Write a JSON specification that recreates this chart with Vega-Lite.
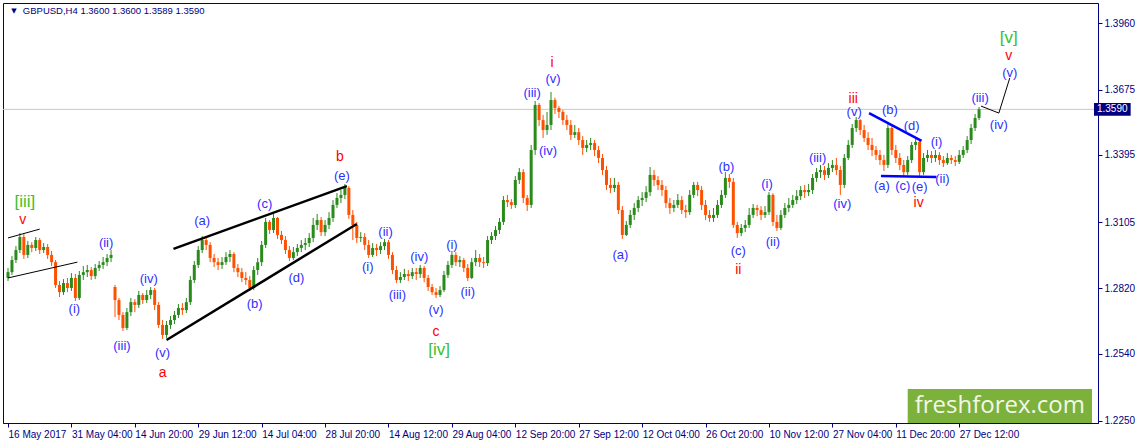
{
  "$schema": "https://vega.github.io/schema/vega-lite/v6.json",
  "width": 1095,
  "height": 420,
  "autosize": {"type": "none"},
  "padding": {"left": 3, "top": 3, "right": 39, "bottom": 21},
  "background": "white",
  "config": {"view": {"stroke": "#000080", "strokeWidth": 1}, "font": "Liberation Sans"},
  "datasets": {
    "candles": [
      {"t":0,"o":1.2865,"h":1.2908,"l":1.2852,"c":1.2890},
      {"t":4,"o":1.2890,"h":1.2959,"l":1.2878,"c":1.2942},
      {"t":8,"o":1.2942,"h":1.3002,"l":1.2929,"c":1.2985},
      {"t":12,"o":1.2985,"h":1.3058,"l":1.2972,"c":1.3041},
      {"t":16,"o":1.3041,"h":1.3054,"l":1.2947,"c":1.2964},
      {"t":20,"o":1.2964,"h":1.3024,"l":1.2951,"c":1.3007},
      {"t":24,"o":1.3007,"h":1.3019,"l":1.2976,"c":1.2994},
      {"t":28,"o":1.2994,"h":1.3041,"l":1.2981,"c":1.3028},
      {"t":32,"o":1.3028,"h":1.3037,"l":1.2968,"c":1.2985},
      {"t":36,"o":1.2985,"h":1.3015,"l":1.2972,"c":1.2998},
      {"t":40,"o":1.2998,"h":1.3011,"l":1.2947,"c":1.2964},
      {"t":44,"o":1.2964,"h":1.2981,"l":1.2916,"c":1.2933},
      {"t":48,"o":1.2933,"h":1.2942,"l":1.2822,"c":1.2835},
      {"t":52,"o":1.2835,"h":1.2852,"l":1.2783,"c":1.2804},
      {"t":56,"o":1.2804,"h":1.2860,"l":1.2792,"c":1.2843},
      {"t":60,"o":1.2843,"h":1.2865,"l":1.2804,"c":1.2822},
      {"t":64,"o":1.2822,"h":1.2886,"l":1.2809,"c":1.2865},
      {"t":68,"o":1.2865,"h":1.2882,"l":1.2766,"c":1.2779},
      {"t":72,"o":1.2779,"h":1.2895,"l":1.2770,"c":1.2878},
      {"t":76,"o":1.2878,"h":1.2916,"l":1.2856,"c":1.2890},
      {"t":80,"o":1.2890,"h":1.2921,"l":1.2869,"c":1.2899},
      {"t":84,"o":1.2899,"h":1.2912,"l":1.2856,"c":1.2873},
      {"t":88,"o":1.2873,"h":1.2925,"l":1.2860,"c":1.2908},
      {"t":92,"o":1.2908,"h":1.2938,"l":1.2895,"c":1.2921},
      {"t":96,"o":1.2921,"h":1.2955,"l":1.2904,"c":1.2933},
      {"t":100,"o":1.2933,"h":1.2968,"l":1.2916,"c":1.2951},
      {"t":104,"o":1.2951,"h":1.2985,"l":1.2933,"c":1.2964},
      {"t":108,"o":1.2826,"h":1.2835,"l":1.2697,"c":1.2770},
      {"t":112,"o":1.2770,"h":1.2779,"l":1.2684,"c":1.2706},
      {"t":116,"o":1.2706,"h":1.2718,"l":1.2637,"c":1.2650},
      {"t":120,"o":1.2650,"h":1.2736,"l":1.2641,"c":1.2718},
      {"t":124,"o":1.2718,"h":1.2779,"l":1.2701,"c":1.2761},
      {"t":128,"o":1.2761,"h":1.2774,"l":1.2718,"c":1.2749},
      {"t":132,"o":1.2749,"h":1.2809,"l":1.2736,"c":1.2792},
      {"t":136,"o":1.2792,"h":1.2800,"l":1.2753,"c":1.2770},
      {"t":140,"o":1.2770,"h":1.2813,"l":1.2757,"c":1.2792},
      {"t":144,"o":1.2792,"h":1.2826,"l":1.2774,"c":1.2813},
      {"t":148,"o":1.2813,"h":1.2822,"l":1.2727,"c":1.2749},
      {"t":152,"o":1.2749,"h":1.2761,"l":1.2650,"c":1.2663},
      {"t":156,"o":1.2663,"h":1.2684,"l":1.2603,"c":1.2620},
      {"t":160,"o":1.2620,"h":1.2680,"l":1.2607,"c":1.2663},
      {"t":164,"o":1.2663,"h":1.2701,"l":1.2646,"c":1.2684},
      {"t":168,"o":1.2684,"h":1.2723,"l":1.2667,"c":1.2706},
      {"t":172,"o":1.2706,"h":1.2753,"l":1.2693,"c":1.2736},
      {"t":176,"o":1.2736,"h":1.2757,"l":1.2706,"c":1.2727},
      {"t":180,"o":1.2727,"h":1.2779,"l":1.2714,"c":1.2761},
      {"t":184,"o":1.2761,"h":1.2873,"l":1.2749,"c":1.2856},
      {"t":188,"o":1.2856,"h":1.2938,"l":1.2843,"c":1.2921},
      {"t":192,"o":1.2921,"h":1.3002,"l":1.2908,"c":1.2985},
      {"t":196,"o":1.2985,"h":1.3045,"l":1.2972,"c":1.3028},
      {"t":200,"o":1.3028,"h":1.3041,"l":1.2985,"c":1.3007},
      {"t":204,"o":1.3007,"h":1.3019,"l":1.2933,"c":1.2951},
      {"t":208,"o":1.2951,"h":1.2968,"l":1.2912,"c":1.2933},
      {"t":212,"o":1.2933,"h":1.2951,"l":1.2899,"c":1.2921},
      {"t":216,"o":1.2921,"h":1.2955,"l":1.2904,"c":1.2933},
      {"t":220,"o":1.2933,"h":1.2976,"l":1.2921,"c":1.2955},
      {"t":224,"o":1.2955,"h":1.2985,"l":1.2933,"c":1.2968},
      {"t":228,"o":1.2968,"h":1.2976,"l":1.2890,"c":1.2908},
      {"t":232,"o":1.2908,"h":1.2925,"l":1.2869,"c":1.2890},
      {"t":236,"o":1.2890,"h":1.2908,"l":1.2847,"c":1.2865},
      {"t":240,"o":1.2865,"h":1.2890,"l":1.2835,"c":1.2856},
      {"t":244,"o":1.2856,"h":1.2873,"l":1.2809,"c":1.2822},
      {"t":248,"o":1.2822,"h":1.2916,"l":1.2813,"c":1.2899},
      {"t":252,"o":1.2899,"h":1.2951,"l":1.2878,"c":1.2933},
      {"t":256,"o":1.2933,"h":1.3024,"l":1.2916,"c":1.3007},
      {"t":260,"o":1.3007,"h":1.3123,"l":1.2994,"c":1.3106},
      {"t":264,"o":1.3106,"h":1.3114,"l":1.3054,"c":1.3071},
      {"t":268,"o":1.3071,"h":1.3140,"l":1.3058,"c":1.3123},
      {"t":272,"o":1.3123,"h":1.3127,"l":1.3033,"c":1.3050},
      {"t":276,"o":1.3050,"h":1.3067,"l":1.3011,"c":1.3028},
      {"t":280,"o":1.3028,"h":1.3045,"l":1.2968,"c":1.2985},
      {"t":284,"o":1.2985,"h":1.3002,"l":1.2938,"c":1.2951},
      {"t":288,"o":1.2951,"h":1.2998,"l":1.2942,"c":1.2976},
      {"t":292,"o":1.2976,"h":1.3011,"l":1.2959,"c":1.2994},
      {"t":296,"o":1.2994,"h":1.3028,"l":1.2976,"c":1.3007},
      {"t":300,"o":1.3007,"h":1.3037,"l":1.2985,"c":1.3015},
      {"t":304,"o":1.3015,"h":1.3058,"l":1.2998,"c":1.3037},
      {"t":308,"o":1.3037,"h":1.3123,"l":1.3019,"c":1.3093},
      {"t":312,"o":1.3093,"h":1.3140,"l":1.3071,"c":1.3114},
      {"t":316,"o":1.3114,"h":1.3127,"l":1.3045,"c":1.3062},
      {"t":320,"o":1.3062,"h":1.3114,"l":1.3045,"c":1.3093},
      {"t":324,"o":1.3093,"h":1.3148,"l":1.3075,"c":1.3123},
      {"t":328,"o":1.3123,"h":1.3200,"l":1.3106,"c":1.3179},
      {"t":332,"o":1.3179,"h":1.3230,"l":1.3166,"c":1.3209},
      {"t":336,"o":1.3209,"h":1.3243,"l":1.3187,"c":1.3222},
      {"t":340,"o":1.3222,"h":1.3269,"l":1.3204,"c":1.3252},
      {"t":344,"o":1.3252,"h":1.3260,"l":1.3119,"c":1.3136},
      {"t":348,"o":1.3136,"h":1.3157,"l":1.3028,"c":1.3093},
      {"t":352,"o":1.3093,"h":1.3106,"l":1.3015,"c":1.3037},
      {"t":356,"o":1.3037,"h":1.3062,"l":1.3019,"c":1.3041},
      {"t":360,"o":1.3041,"h":1.3058,"l":1.2985,"c":1.3007},
      {"t":364,"o":1.3007,"h":1.3028,"l":1.2951,"c":1.2964},
      {"t":368,"o":1.2964,"h":1.3015,"l":1.2955,"c":1.2994},
      {"t":372,"o":1.2994,"h":1.3011,"l":1.2959,"c":1.2985},
      {"t":376,"o":1.2985,"h":1.3019,"l":1.2968,"c":1.3002},
      {"t":380,"o":1.3002,"h":1.3033,"l":1.2985,"c":1.3019},
      {"t":384,"o":1.3019,"h":1.3028,"l":1.2947,"c":1.2964},
      {"t":388,"o":1.2964,"h":1.2976,"l":1.2882,"c":1.2899},
      {"t":392,"o":1.2899,"h":1.2916,"l":1.2843,"c":1.2856},
      {"t":396,"o":1.2856,"h":1.2890,"l":1.2843,"c":1.2869},
      {"t":400,"o":1.2869,"h":1.2904,"l":1.2856,"c":1.2882},
      {"t":404,"o":1.2882,"h":1.2899,"l":1.2852,"c":1.2873},
      {"t":408,"o":1.2873,"h":1.2908,"l":1.2860,"c":1.2890},
      {"t":412,"o":1.2890,"h":1.2908,"l":1.2856,"c":1.2882},
      {"t":416,"o":1.2882,"h":1.2921,"l":1.2865,"c":1.2908},
      {"t":420,"o":1.2908,"h":1.2916,"l":1.2847,"c":1.2865},
      {"t":424,"o":1.2865,"h":1.2878,"l":1.2809,"c":1.2826},
      {"t":428,"o":1.2826,"h":1.2839,"l":1.2792,"c":1.2804},
      {"t":432,"o":1.2804,"h":1.2822,"l":1.2779,"c":1.2792},
      {"t":436,"o":1.2792,"h":1.2830,"l":1.2783,"c":1.2813},
      {"t":440,"o":1.2813,"h":1.2895,"l":1.2804,"c":1.2878},
      {"t":444,"o":1.2878,"h":1.2938,"l":1.2865,"c":1.2921},
      {"t":448,"o":1.2921,"h":1.2981,"l":1.2908,"c":1.2964},
      {"t":452,"o":1.2964,"h":1.2976,"l":1.2916,"c":1.2933},
      {"t":456,"o":1.2933,"h":1.2959,"l":1.2912,"c":1.2942},
      {"t":460,"o":1.2942,"h":1.2951,"l":1.2890,"c":1.2908},
      {"t":464,"o":1.2908,"h":1.2925,"l":1.2852,"c":1.2865},
      {"t":468,"o":1.2865,"h":1.2951,"l":1.2860,"c":1.2933},
      {"t":472,"o":1.2933,"h":1.2985,"l":1.2916,"c":1.2951},
      {"t":476,"o":1.2951,"h":1.2968,"l":1.2912,"c":1.2933},
      {"t":480,"o":1.2933,"h":1.2955,"l":1.2908,"c":1.2929},
      {"t":484,"o":1.2929,"h":1.3045,"l":1.2916,"c":1.3028},
      {"t":488,"o":1.3028,"h":1.3062,"l":1.3011,"c":1.3045},
      {"t":492,"o":1.3045,"h":1.3088,"l":1.3028,"c":1.3071},
      {"t":496,"o":1.3071,"h":1.3123,"l":1.3054,"c":1.3106},
      {"t":500,"o":1.3106,"h":1.3217,"l":1.3093,"c":1.3200},
      {"t":504,"o":1.3200,"h":1.3222,"l":1.3170,"c":1.3191},
      {"t":508,"o":1.3191,"h":1.3204,"l":1.3162,"c":1.3179},
      {"t":512,"o":1.3179,"h":1.3303,"l":1.3166,"c":1.3286},
      {"t":516,"o":1.3286,"h":1.3338,"l":1.3269,"c":1.3320},
      {"t":520,"o":1.3320,"h":1.3333,"l":1.3187,"c":1.3209},
      {"t":524,"o":1.3209,"h":1.3222,"l":1.3153,"c":1.3179},
      {"t":528,"o":1.3179,"h":1.3437,"l":1.3166,"c":1.3415},
      {"t":532,"o":1.3415,"h":1.3626,"l":1.3394,"c":1.3609},
      {"t":536,"o":1.3609,"h":1.3617,"l":1.3518,"c":1.3544},
      {"t":540,"o":1.3544,"h":1.3566,"l":1.3467,"c":1.3501},
      {"t":544,"o":1.3501,"h":1.3579,"l":1.3480,"c":1.3523},
      {"t":548,"o":1.3523,"h":1.3665,"l":1.3501,"c":1.3630},
      {"t":552,"o":1.3630,"h":1.3640,"l":1.3570,"c":1.3596},
      {"t":556,"o":1.3596,"h":1.3604,"l":1.3553,"c":1.3579},
      {"t":560,"o":1.3579,"h":1.3587,"l":1.3523,"c":1.3544},
      {"t":564,"o":1.3544,"h":1.3566,"l":1.3501,"c":1.3523},
      {"t":568,"o":1.3523,"h":1.3544,"l":1.3458,"c":1.3480},
      {"t":572,"o":1.3480,"h":1.3523,"l":1.3467,"c":1.3492},
      {"t":576,"o":1.3492,"h":1.3510,"l":1.3437,"c":1.3458},
      {"t":580,"o":1.3458,"h":1.3475,"l":1.3394,"c":1.3424},
      {"t":584,"o":1.3424,"h":1.3458,"l":1.3406,"c":1.3437},
      {"t":588,"o":1.3437,"h":1.3467,"l":1.3415,"c":1.3445},
      {"t":592,"o":1.3445,"h":1.3458,"l":1.3389,"c":1.3415},
      {"t":596,"o":1.3415,"h":1.3432,"l":1.3359,"c":1.3381},
      {"t":600,"o":1.3381,"h":1.3398,"l":1.3308,"c":1.3329},
      {"t":604,"o":1.3329,"h":1.3346,"l":1.3243,"c":1.3265},
      {"t":608,"o":1.3265,"h":1.3295,"l":1.3230,"c":1.3252},
      {"t":612,"o":1.3252,"h":1.3295,"l":1.3234,"c":1.3265},
      {"t":616,"o":1.3265,"h":1.3278,"l":1.3140,"c":1.3157},
      {"t":620,"o":1.3157,"h":1.3174,"l":1.3033,"c":1.3050},
      {"t":624,"o":1.3050,"h":1.3110,"l":1.3045,"c":1.3093},
      {"t":628,"o":1.3093,"h":1.3157,"l":1.3080,"c":1.3136},
      {"t":632,"o":1.3136,"h":1.3187,"l":1.3114,"c":1.3166},
      {"t":636,"o":1.3166,"h":1.3217,"l":1.3148,"c":1.3200},
      {"t":640,"o":1.3200,"h":1.3234,"l":1.3174,"c":1.3209},
      {"t":644,"o":1.3209,"h":1.3260,"l":1.3191,"c":1.3234},
      {"t":648,"o":1.3234,"h":1.3342,"l":1.3217,"c":1.3308},
      {"t":652,"o":1.3308,"h":1.3329,"l":1.3260,"c":1.3286},
      {"t":656,"o":1.3286,"h":1.3303,"l":1.3243,"c":1.3265},
      {"t":660,"o":1.3265,"h":1.3286,"l":1.3217,"c":1.3243},
      {"t":664,"o":1.3243,"h":1.3260,"l":1.3166,"c":1.3187},
      {"t":668,"o":1.3187,"h":1.3209,"l":1.3140,"c":1.3166},
      {"t":672,"o":1.3166,"h":1.3200,"l":1.3148,"c":1.3179},
      {"t":676,"o":1.3179,"h":1.3226,"l":1.3166,"c":1.3200},
      {"t":680,"o":1.3200,"h":1.3217,"l":1.3140,"c":1.3157},
      {"t":684,"o":1.3157,"h":1.3179,"l":1.3123,"c":1.3148},
      {"t":688,"o":1.3148,"h":1.3243,"l":1.3136,"c":1.3222},
      {"t":692,"o":1.3222,"h":1.3278,"l":1.3209,"c":1.3265},
      {"t":696,"o":1.3265,"h":1.3278,"l":1.3217,"c":1.3243},
      {"t":700,"o":1.3243,"h":1.3260,"l":1.3157,"c":1.3179},
      {"t":704,"o":1.3179,"h":1.3200,"l":1.3114,"c":1.3136},
      {"t":708,"o":1.3136,"h":1.3157,"l":1.3106,"c":1.3123},
      {"t":712,"o":1.3123,"h":1.3166,"l":1.3106,"c":1.3136},
      {"t":716,"o":1.3136,"h":1.3200,"l":1.3123,"c":1.3179},
      {"t":720,"o":1.3179,"h":1.3243,"l":1.3166,"c":1.3222},
      {"t":724,"o":1.3222,"h":1.3320,"l":1.3209,"c":1.3295},
      {"t":728,"o":1.3295,"h":1.3312,"l":1.3252,"c":1.3278},
      {"t":732,"o":1.3278,"h":1.3295,"l":1.3080,"c":1.3093},
      {"t":736,"o":1.3093,"h":1.3106,"l":1.3037,"c":1.3058},
      {"t":740,"o":1.3058,"h":1.3097,"l":1.3045,"c":1.3080},
      {"t":744,"o":1.3080,"h":1.3114,"l":1.3062,"c":1.3093},
      {"t":748,"o":1.3093,"h":1.3166,"l":1.3080,"c":1.3136},
      {"t":752,"o":1.3136,"h":1.3183,"l":1.3123,"c":1.3166},
      {"t":756,"o":1.3166,"h":1.3179,"l":1.3131,"c":1.3157},
      {"t":760,"o":1.3157,"h":1.3174,"l":1.3114,"c":1.3136},
      {"t":764,"o":1.3136,"h":1.3174,"l":1.3123,"c":1.3148},
      {"t":768,"o":1.3148,"h":1.3234,"l":1.3136,"c":1.3222},
      {"t":772,"o":1.3222,"h":1.3230,"l":1.3088,"c":1.3106},
      {"t":776,"o":1.3106,"h":1.3136,"l":1.3067,"c":1.3080},
      {"t":780,"o":1.3080,"h":1.3157,"l":1.3071,"c":1.3136},
      {"t":784,"o":1.3136,"h":1.3187,"l":1.3123,"c":1.3166},
      {"t":788,"o":1.3166,"h":1.3209,"l":1.3148,"c":1.3179},
      {"t":792,"o":1.3179,"h":1.3222,"l":1.3166,"c":1.3200},
      {"t":796,"o":1.3200,"h":1.3243,"l":1.3183,"c":1.3217},
      {"t":800,"o":1.3217,"h":1.3260,"l":1.3200,"c":1.3243},
      {"t":804,"o":1.3243,"h":1.3265,"l":1.3209,"c":1.3234},
      {"t":808,"o":1.3234,"h":1.3269,"l":1.3217,"c":1.3243},
      {"t":812,"o":1.3243,"h":1.3312,"l":1.3226,"c":1.3295},
      {"t":816,"o":1.3295,"h":1.3338,"l":1.3278,"c":1.3320},
      {"t":820,"o":1.3320,"h":1.3351,"l":1.3295,"c":1.3329},
      {"t":824,"o":1.3329,"h":1.3346,"l":1.3286,"c":1.3308},
      {"t":828,"o":1.3308,"h":1.3359,"l":1.3295,"c":1.3338},
      {"t":832,"o":1.3338,"h":1.3372,"l":1.3320,"c":1.3351},
      {"t":836,"o":1.3351,"h":1.3381,"l":1.3308,"c":1.3329},
      {"t":840,"o":1.3329,"h":1.3346,"l":1.3222,"c":1.3265},
      {"t":844,"o":1.3265,"h":1.3398,"l":1.3252,"c":1.3381},
      {"t":848,"o":1.3381,"h":1.3458,"l":1.3372,"c":1.3437},
      {"t":852,"o":1.3437,"h":1.3527,"l":1.3424,"c":1.3510},
      {"t":856,"o":1.3510,"h":1.3557,"l":1.3492,"c":1.3544},
      {"t":860,"o":1.3544,"h":1.3548,"l":1.3480,"c":1.3501},
      {"t":864,"o":1.3501,"h":1.3523,"l":1.3450,"c":1.3467},
      {"t":868,"o":1.3467,"h":1.3492,"l":1.3415,"c":1.3437},
      {"t":872,"o":1.3437,"h":1.3467,"l":1.3389,"c":1.3415},
      {"t":876,"o":1.3415,"h":1.3432,"l":1.3372,"c":1.3394},
      {"t":880,"o":1.3394,"h":1.3415,"l":1.3351,"c":1.3372},
      {"t":884,"o":1.3372,"h":1.3394,"l":1.3325,"c":1.3351},
      {"t":888,"o":1.3351,"h":1.3527,"l":1.3338,"c":1.3510},
      {"t":892,"o":1.3510,"h":1.3518,"l":1.3394,"c":1.3415},
      {"t":896,"o":1.3415,"h":1.3437,"l":1.3359,"c":1.3381},
      {"t":900,"o":1.3381,"h":1.3402,"l":1.3329,"c":1.3351},
      {"t":904,"o":1.3351,"h":1.3372,"l":1.3303,"c":1.3320},
      {"t":908,"o":1.3320,"h":1.3389,"l":1.3308,"c":1.3372},
      {"t":912,"o":1.3372,"h":1.3450,"l":1.3359,"c":1.3437},
      {"t":916,"o":1.3437,"h":1.3463,"l":1.3415,"c":1.3450},
      {"t":920,"o":1.3450,"h":1.3458,"l":1.3299,"c":1.3320},
      {"t":924,"o":1.3320,"h":1.3402,"l":1.3308,"c":1.3381},
      {"t":928,"o":1.3381,"h":1.3415,"l":1.3364,"c":1.3394},
      {"t":932,"o":1.3394,"h":1.3411,"l":1.3359,"c":1.3381},
      {"t":936,"o":1.3381,"h":1.3415,"l":1.3364,"c":1.3394},
      {"t":940,"o":1.3394,"h":1.3406,"l":1.3351,"c":1.3372},
      {"t":944,"o":1.3372,"h":1.3389,"l":1.3342,"c":1.3359},
      {"t":948,"o":1.3359,"h":1.3402,"l":1.3351,"c":1.3381},
      {"t":952,"o":1.3381,"h":1.3394,"l":1.3355,"c":1.3372},
      {"t":956,"o":1.3372,"h":1.3389,"l":1.3346,"c":1.3364},
      {"t":960,"o":1.3364,"h":1.3415,"l":1.3355,"c":1.3394},
      {"t":964,"o":1.3394,"h":1.3432,"l":1.3381,"c":1.3415},
      {"t":968,"o":1.3415,"h":1.3475,"l":1.3402,"c":1.3458},
      {"t":972,"o":1.3458,"h":1.3527,"l":1.3441,"c":1.3510},
      {"t":976,"o":1.3510,"h":1.3570,"l":1.3497,"c":1.3553},
      {"t":980,"o":1.3553,"h":1.3600,"l":1.3544,"c":1.3590}
    ],
    "waves": [
      {"t":67,"p":1.2731,"s":"(i)","k":"minor"},
      {"t":99,"p":1.3015,"s":"(ii)","k":"minor"},
      {"t":115,"p":1.2572,"s":"(iii)","k":"minor"},
      {"t":142,"p":1.2860,"s":"(iv)","k":"minor"},
      {"t":156,"p":1.2542,"s":"(v)","k":"minor"},
      {"t":196,"p":1.3110,"s":"(a)","k":"minor"},
      {"t":249,"p":1.2753,"s":"(b)","k":"minor"},
      {"t":259,"p":1.3183,"s":"(c)","k":"minor"},
      {"t":291,"p":1.2865,"s":"(d)","k":"minor"},
      {"t":337,"p":1.3303,"s":"(e)","k":"minor"},
      {"t":363,"p":1.2912,"s":"(i)","k":"minor"},
      {"t":381,"p":1.3062,"s":"(ii)","k":"minor"},
      {"t":393,"p":1.2792,"s":"(iii)","k":"minor"},
      {"t":415,"p":1.2955,"s":"(iv)","k":"minor"},
      {"t":432,"p":1.2727,"s":"(v)","k":"minor"},
      {"t":448,"p":1.3007,"s":"(i)","k":"minor"},
      {"t":464,"p":1.2804,"s":"(ii)","k":"minor"},
      {"t":529,"p":1.3660,"s":"(iii)","k":"minor"},
      {"t":545,"p":1.3411,"s":"(iv)","k":"minor"},
      {"t":550,"p":1.3721,"s":"(v)","k":"minor"},
      {"t":618,"p":1.2964,"s":"(a)","k":"minor"},
      {"t":725,"p":1.3342,"s":"(b)","k":"minor"},
      {"t":737,"p":1.2981,"s":"(c)","k":"minor"},
      {"t":766,"p":1.3269,"s":"(i)","k":"minor"},
      {"t":772,"p":1.3019,"s":"(ii)","k":"minor"},
      {"t":817,"p":1.3381,"s":"(iii)","k":"minor"},
      {"t":842,"p":1.3183,"s":"(iv)","k":"minor"},
      {"t":854,"p":1.3578,"s":"(v)","k":"minor"},
      {"t":890,"p":1.3587,"s":"(b)","k":"minor"},
      {"t":912,"p":1.3518,"s":"(d)","k":"minor"},
      {"t":882,"p":1.3260,"s":"(a)","k":"minor"},
      {"t":903,"p":1.3260,"s":"(c)","k":"minor"},
      {"t":920,"p":1.3256,"s":"(e)","k":"minor"},
      {"t":937,"p":1.3450,"s":"(i)","k":"minor"},
      {"t":943,"p":1.3290,"s":"(ii)","k":"minor"},
      {"t":981,"p":1.3639,"s":"(iii)","k":"minor"},
      {"t":1000,"p":1.3523,"s":"(iv)","k":"minor"},
      {"t":1011,"p":1.3748,"s":"(v)","k":"minor"},
      {"t":15,"p":1.3114,"s":"v","k":"inter"},
      {"t":156,"p":1.2456,"s":"a","k":"inter"},
      {"t":335,"p":1.3385,"s":"b","k":"inter"},
      {"t":432,"p":1.2632,"s":"c","k":"inter"},
      {"t":549,"p":1.3789,"s":"i","k":"inter"},
      {"t":737,"p":1.2899,"s":"ii","k":"inter"},
      {"t":853,"p":1.3635,"s":"iii","k":"inter"},
      {"t":919,"p":1.3187,"s":"iv","k":"inter"},
      {"t":1010,"p":1.3820,"s":"v","k":"inter"},
      {"t":17,"p":1.3191,"s":"[iii]","k":"primary"},
      {"t":435,"p":1.2555,"s":"[iv]","k":"primary"},
      {"t":1010,"p":1.3895,"s":"[v]","k":"primary"}
    ],
    "lines": [
      {"g":"l1","k":"thin","t":0,"p":1.3037},
      {"g":"l1","k":"thin","t":32,"p":1.3075},
      {"g":"l2","k":"thin","t":0,"p":1.2865},
      {"g":"l2","k":"thin","t":70,"p":1.2933},
      {"g":"proj","k":"thin","t":982,"p":1.3604},
      {"g":"proj","k":"thin","t":1000,"p":1.3574},
      {"g":"proj","k":"thin","t":1011,"p":1.3725},
      {"g":"w1","k":"thick","t":167,"p":1.2990},
      {"g":"w1","k":"thick","t":342,"p":1.3260},
      {"g":"w2","k":"thick","t":160,"p":1.2598},
      {"g":"w2","k":"thick","t":352,"p":1.3097},
      {"g":"t1","k":"blue","t":869,"p":1.3574},
      {"g":"t1","k":"blue","t":922,"p":1.3454},
      {"g":"t2","k":"blue","t":881,"p":1.3303},
      {"g":"t2","k":"blue","t":937,"p":1.3299}
    ]
  },
  "layer": [
    {
      "data": {"values": [{}]},
      "mark": {"type": "rule", "color": "#c8c8c8", "strokeWidth": 1},
      "encoding": {"y": {"datum": 1.359, "type": "quantitative"}}
    },
    {
      "data": {"values": [{}]},
      "mark": {"type": "rect", "color": "#7cb13b"},
      "encoding": {
        "x": {"datum": 908, "type": "quantitative"},
        "x2": {"datum": 1094},
        "y": {"datum": 1.2388, "type": "quantitative"},
        "y2": {"datum": 1.2241}
      }
    },
    {
      "data": {"values": [{}]},
      "mark": {"type": "text", "font": "Open Sans", "fontSize": 24, "color": "#f2f7ea", "align": "center", "baseline": "middle"},
      "encoding": {
        "x": {"datum": 1001, "type": "quantitative"},
        "y": {"datum": 1.2316, "type": "quantitative"},
        "text": {"value": "freshforex.com"}
      }
    },
    {
      "data": {"values": [{}]},
      "mark": {"type": "text", "font": "DejaVu Sans", "fontSize": 7, "color": "#000080", "align": "center", "baseline": "middle"},
      "encoding": {
        "x": {"datum": 6, "type": "quantitative"},
        "y": {"datum": 1.4013, "type": "quantitative"},
        "text": {"value": "▼"}
      }
    },
    {
      "data": {"values": [{}]},
      "mark": {"type": "text", "font": "Liberation Sans", "fontSize": 9.5, "color": "#000080", "align": "left", "baseline": "middle"},
      "encoding": {
        "x": {"datum": 15, "type": "quantitative"},
        "y": {"datum": 1.4011, "type": "quantitative"},
        "text": {"value": "GBPUSD,H4  1.3600 1.3600 1.3589 1.3590"}
      }
    },
    {
      "data": {"name": "candles"},
      "mark": {"type": "rule", "strokeWidth": 1},
      "encoding": {
        "x": {
          "field": "t", "type": "quantitative",
          "scale": {"domain": [0, 1095], "nice": false, "zero": false},
          "axis": {
            "title": null, "grid": false,
            "values": [0, 64, 128, 192, 256, 320, 384, 448, 512, 576, 640, 704, 768, 832, 896, 960],
            "labelExpr": "['16 May 2017','31 May 04:00','14 Jun 20:00','29 Jun 12:00','14 Jul 04:00','28 Jul 20:00','14 Aug 12:00','29 Aug 04:00','12 Sep 20:00','27 Sep 12:00','12 Oct 04:00','26 Oct 20:00','10 Nov 12:00','27 Nov 04:00','11 Dec 20:00','27 Dec 12:00'][round(datum.value / 64)]",
            "labelAlign": "left", "labelFont": "Liberation Sans", "labelFontSize": 10,
            "labelColor": "#000080", "tickColor": "#000080", "domainColor": "#000080",
            "tickSize": 4, "labelPadding": 2, "labelFlush": false, "labelOverlap": false
          }
        },
        "y": {
          "field": "l", "type": "quantitative",
          "scale": {"domain": [1.22413, 1.40473], "nice": false, "zero": false},
          "axis": {
            "orient": "right", "title": null, "grid": false,
            "values": [1.396, 1.382, 1.3675, 1.3535, 1.3395, 1.325, 1.3105, 1.2965, 1.282, 1.268, 1.254, 1.2395, 1.225],
            "format": ".4f", "labelFont": "Liberation Sans", "labelFontSize": 10,
            "labelColor": "#000080", "tickColor": "#000080", "domainColor": "#000080",
            "tickSize": 4, "labelPadding": 2, "labelFlush": false, "labelOverlap": false
          }
        },
        "y2": {"field": "h"},
        "color": {"condition": {"test": "datum.c >= datum.o", "value": "#2a8a1c"}, "value": "#ff5000"}
      }
    },
    {
      "data": {"name": "candles"},
      "mark": {"type": "bar", "size": 3},
      "encoding": {
        "x": {"field": "t", "type": "quantitative"},
        "y": {"field": "o", "type": "quantitative"},
        "y2": {"field": "c"},
        "color": {"condition": {"test": "datum.c >= datum.o", "value": "#2a8a1c"}, "value": "#ff5000"}
      }
    },
    {
      "data": {"name": "lines"},
      "transform": [{"filter": "datum.k == 'thin'"}],
      "mark": {"type": "line", "color": "#000000", "strokeWidth": 1},
      "encoding": {
        "x": {"field": "t", "type": "quantitative"},
        "y": {"field": "p", "type": "quantitative"},
        "detail": {"field": "g"}
      }
    },
    {
      "data": {"name": "lines"},
      "transform": [{"filter": "datum.k == 'thick'"}],
      "mark": {"type": "line", "color": "#000000", "strokeWidth": 2.5},
      "encoding": {
        "x": {"field": "t", "type": "quantitative"},
        "y": {"field": "p", "type": "quantitative"},
        "detail": {"field": "g"}
      }
    },
    {
      "data": {"name": "lines"},
      "transform": [{"filter": "datum.k == 'blue'"}],
      "mark": {"type": "line", "color": "#0000ff", "strokeWidth": 2.5},
      "encoding": {
        "x": {"field": "t", "type": "quantitative"},
        "y": {"field": "p", "type": "quantitative"},
        "detail": {"field": "g"}
      }
    },
    {
      "data": {"name": "waves"},
      "transform": [{"filter": "datum.k == 'minor'"}],
      "mark": {"type": "text", "font": "Liberation Sans", "fontSize": 13, "color": "#2f2fff", "align": "center", "baseline": "middle"},
      "encoding": {
        "x": {"field": "t", "type": "quantitative"},
        "y": {"field": "p", "type": "quantitative"},
        "text": {"field": "s"}
      }
    },
    {
      "data": {"name": "waves"},
      "transform": [{"filter": "datum.k == 'inter'"}],
      "mark": {"type": "text", "font": "Liberation Sans", "fontSize": 14, "color": "#ff0000", "align": "center", "baseline": "middle"},
      "encoding": {
        "x": {"field": "t", "type": "quantitative"},
        "y": {"field": "p", "type": "quantitative"},
        "text": {"field": "s"}
      }
    },
    {
      "data": {"name": "waves"},
      "transform": [{"filter": "datum.k == 'primary'"}],
      "mark": {"type": "text", "font": "Liberation Sans", "fontSize": 17, "color": "#3cbf2c", "align": "center", "baseline": "middle"},
      "encoding": {
        "x": {"field": "t", "type": "quantitative"},
        "y": {"field": "p", "type": "quantitative"},
        "text": {"field": "s"}
      }
    },
    {
      "data": {"values": [{}]},
      "mark": {"type": "rect", "color": "#000080", "clip": false},
      "encoding": {
        "x": {"datum": 1096, "type": "quantitative"},
        "x2": {"datum": 1133},
        "y": {"datum": 1.3617, "type": "quantitative"},
        "y2": {"datum": 1.3562}
      }
    },
    {
      "data": {"values": [{}]},
      "mark": {"type": "text", "font": "Liberation Sans", "fontSize": 10, "color": "#ffffff", "align": "left", "baseline": "middle"},
      "encoding": {
        "x": {"datum": 1099, "type": "quantitative"},
        "y": {"datum": 1.359, "type": "quantitative"},
        "text": {"value": "1.3590"}
      }
    }
  ]
}
